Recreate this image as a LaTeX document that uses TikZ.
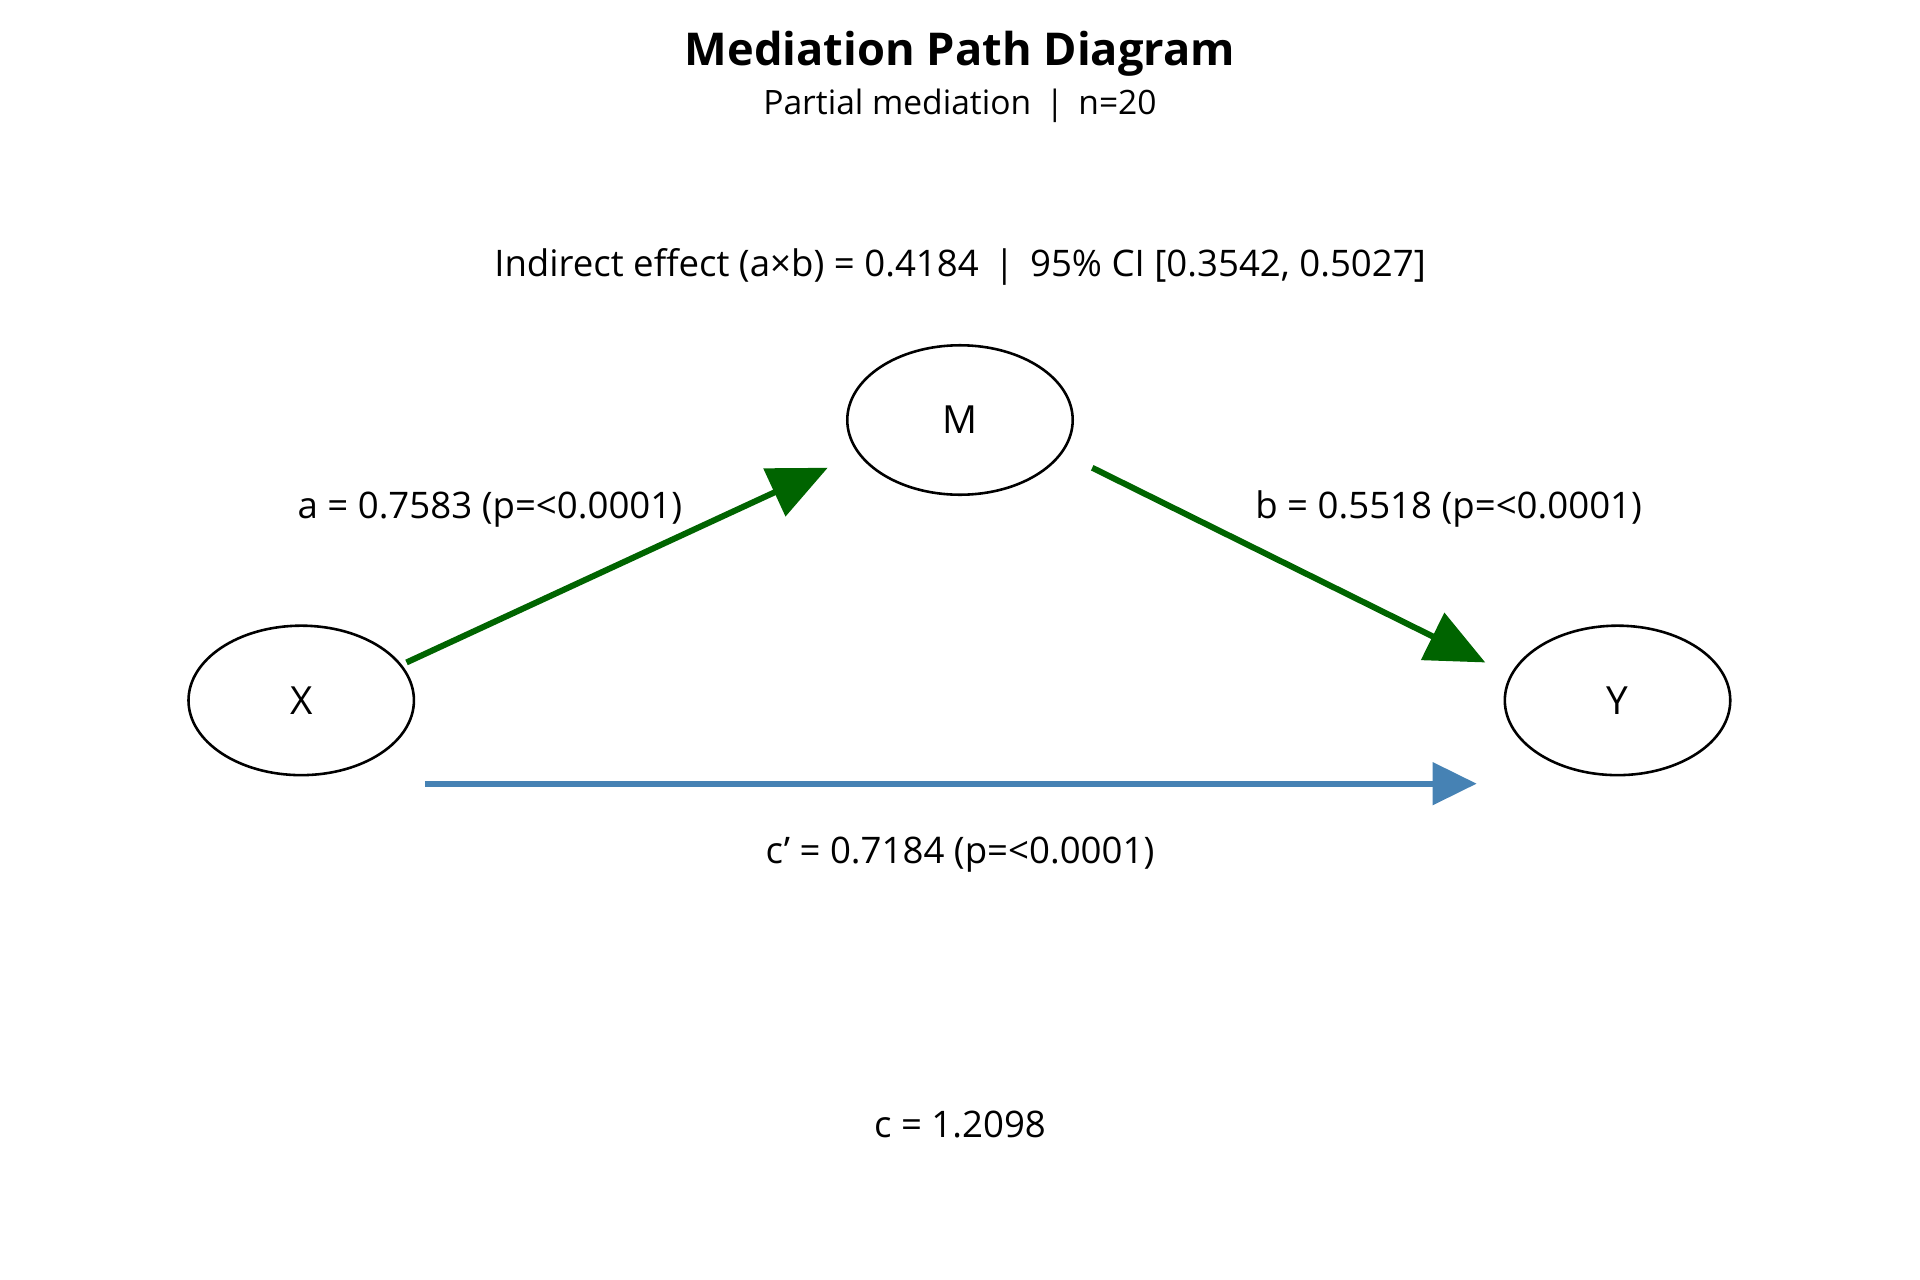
\documentclass[tikz,border=0pt]{standalone}
\usepackage{fontspec}
\setmainfont{Open Sans}
\usepackage{tikz}
\usetikzlibrary{arrows.meta,positioning,shapes.geometric}
\definecolor{pathgreen}{RGB}{0,100,0}
\definecolor{steel}{RGB}{70,130,180}
\tikzset{
  var/.style={ellipse, draw, line width=0.6pt, minimum width=1.84cm, minimum height=1.22cm, font=\fontsize{9}{11}\selectfont},
  lbl/.style={font=\fontsize{8.5}{10}\selectfont},
  path arrow/.style={line width=1.4pt, -{Triangle[length=0.48cm, width=0.42cm]}}
}
\begin{document}
\begin{tikzpicture}[x=0.01cm, y=-0.01cm]
    \useasboundingbox (0,0) rectangle (1568,1045);

    % Title
    \node[font=\fontsize{10.5}{12}\selectfont\bfseries] (title) at (784,44) {Mediation Path Diagram};
    \node[lbl, font=\fontsize{7.8}{9}\selectfont] (sub) at (784,86) {Partial mediation \,|\, n=20};
    \node[lbl] (ind) at (784,218) {Indirect effect (a×b) = 0.4184 \,|\, 95\% CI [0.3542, 0.5027]};

    % Variables
    \node[var] (M) at (784,343) {M};
    \node[var] (X) at (246,572) {X};
    \node[var] (Y) at (1321,572) {Y};

    % Paths
    \coordinate (a0) at (332,541);
    \coordinate (a1) at (676,382);
    \coordinate (b0) at (892,382);
    \coordinate (b1) at (1213,541);
    \coordinate (c0) at (347,640);
    \coordinate (c1) at (1206,640);
    \draw[path arrow, pathgreen] (a0) -- (a1);
    \draw[path arrow, pathgreen] (b0) -- (b1);
    \draw[path arrow, steel, -{Triangle[length=0.36cm, width=0.34cm]}] (c0) -- (c1);

    % Labels
    \node[lbl] (alab) at (400,416) {a = 0.7583 (p=<0.0001)};
    \node[lbl] (blab) at (1183,416) {b = 0.5518 (p=<0.0001)};
    \node[lbl] (clab) at (784,698) {c' = 0.7184 (p=<0.0001)};
    \node[lbl] (tot) at (784,918) {c = 1.2098};
\end{tikzpicture}
\end{document}
